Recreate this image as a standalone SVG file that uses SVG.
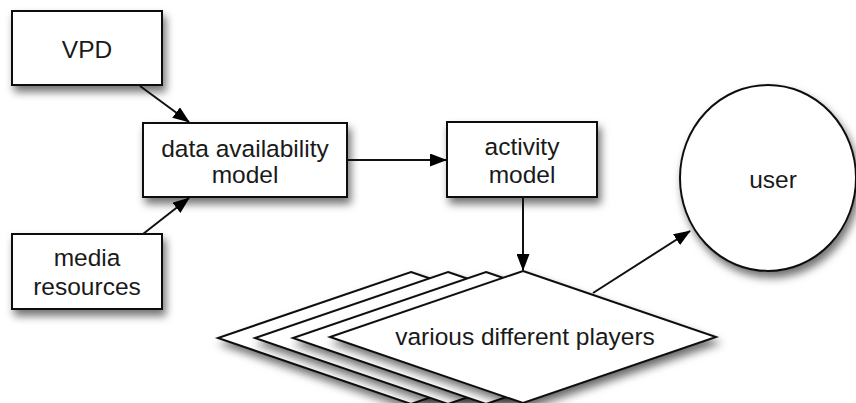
<svg xmlns="http://www.w3.org/2000/svg" width="856" height="403" viewBox="0 0 856 403">
<defs>
<filter id="sh" x="-20%" y="-20%" width="150%" height="160%">
<feDropShadow dx="3" dy="6" stdDeviation="4" flood-color="#000" flood-opacity="0.55"/>
</filter>
<marker id="ah" viewBox="0 0 17 13" refX="16" refY="6.5" markerWidth="17" markerHeight="13" markerUnits="userSpaceOnUse" orient="auto">
<path d="M0,0 L17,6.5 L0,13 Z" fill="#000"/>
</marker>
</defs>
<style>
.n{fill:#fff;stroke:#111;stroke-width:2;filter:url(#sh)}
.t{font-family:"Liberation Sans",Arial,sans-serif;font-size:24.5px;fill:#1a1a1a;text-anchor:middle}
.c{stroke:#111;stroke-width:2;fill:none;marker-end:url(#ah)}
</style>
<rect width="856" height="403" fill="#fff"/>
<g id="vpd"><rect class="n" x="12" y="11" width="150" height="74"/><text class="t" x="87" y="58">VPD</text></g>
<g id="dam"><rect class="n" x="143" y="123" width="204" height="74"/><text class="t" x="245" y="157">data availability</text><text class="t" x="245" y="183">model</text></g>
<g id="media"><rect class="n" x="12" y="234" width="150" height="75"/><text class="t" x="87" y="266">media</text><text class="t" x="87" y="295">resources</text></g>
<g id="activity"><rect class="n" x="447" y="122" width="150" height="75"/><text class="t" x="522" y="155">activity</text><text class="t" x="522" y="183">model</text></g>
<g id="user"><ellipse class="n" cx="768" cy="178" rx="88" ry="93"/><text class="t" x="773" y="188">user</text></g>
<g id="players">
<polygon class="n" points="411,272 604,338 411,404 218,338"/>
<polygon class="n" points="448,272 641,338 448,404 255,338"/>
<polygon class="n" points="486,272 679,338 486,404 293,338"/>
<polygon class="n" points="523,271 716,337 523,403 330,337"/>
<text class="t" x="525" y="345">various different players</text>
</g>
<g id="connectors">
<line class="c" x1="140" y1="86" x2="189" y2="122"/>
<line class="c" x1="143" y1="234" x2="189" y2="198"/>
<line class="c" x1="347" y1="160" x2="446" y2="160"/>
<line class="c" x1="523" y1="197" x2="523" y2="270"/>
<line class="c" x1="593" y1="293" x2="690" y2="231"/>
</g>
</svg>
